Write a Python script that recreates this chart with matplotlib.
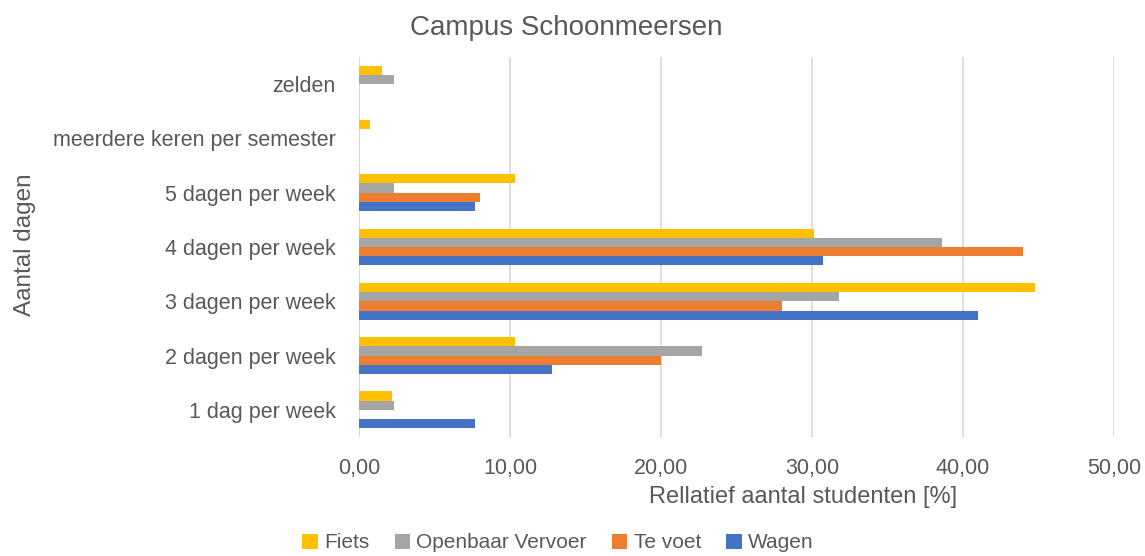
import matplotlib.pyplot as plt
import numpy as np

# categories from bottom to top
categories = ["1 dag per week", "2 dagen per week", "3 dagen per week",
              "4 dagen per week", "5 dagen per week",
              "meerdere keren per semester", "zelden"]

wagen = [7.7, 12.8, 41.0, 30.75, 7.7, 0, 0]
te_voet = [0, 20.0, 28.0, 44.0, 8.0, 0, 0]
openbaar = [2.3, 22.7, 31.8, 38.6, 2.3, 0, 2.3]
fiets = [2.2, 10.3, 44.8, 30.1, 10.3, 0.75, 1.5]

x_ticks = [0, 10, 20, 30, 40, 50]
x_ticklabels = ["0,00", "10,00", "20,00", "30,00", "40,00", "50,00"]

text_col = "#595959"
plt.rcParams['font.family'] = ['Liberation Sans', 'DejaVu Sans']

fig = plt.figure(figsize=(11.45, 5.56), dpi=100)
ax = fig.add_axes([359 / 1145, 1 - 437 / 556, 755 / 1145, 380 / 556])

y = np.arange(len(categories))
h = 0.17
series = [(wagen, "Wagen", "#4472C4", -1.5),
          (te_voet, "Te voet", "#ED7D31", -0.5),
          (openbaar, "Openbaar Vervoer", "#A5A5A5", 0.5),
          (fiets, "Fiets", "#FFC000", 1.5)]
handles = {}
for vals, name, col, off in series:
    handles[name] = ax.barh(y + off * h, vals, height=h, color=col, label=name)

ax.set_xlim(0, 50)
ax.set_ylim(-0.5, len(categories) - 0.5)
ax.set_xticks(x_ticks)
ax.set_xticklabels(x_ticklabels, fontsize=15.5, color=text_col)
ax.set_yticks(y)
ax.set_yticklabels(categories, fontsize=15.5, color=text_col)
ax.tick_params(axis='x', length=0, pad=15)
ax.tick_params(axis='y', length=0, pad=17)
ax.xaxis.grid(True, color="#D9D9D9", linewidth=1.2)
ax.set_axisbelow(True)
for s in ax.spines.values():
    s.set_visible(False)
ax.axvline(0, color="#D9D9D9", linewidth=1.2, zorder=0)

fig.text(566 / 1145, 1 - 28 / 556, "Campus Schoonmeersen", fontsize=20,
         color=text_col, ha="center", va="center")
fig.text(803 / 1145, 1 - 497 / 556, "Rellatief aantal studenten [%]",
         fontsize=17, color=text_col, ha="center", va="center")
fig.text(25 / 1145, 1 - 245 / 556, "Aantal dagen", fontsize=17.5,
         color=text_col, ha="center", va="center", rotation=90)

order = ["Fiets", "Openbaar Vervoer", "Te voet", "Wagen"]
fig.legend([handles[n] for n in order], order, loc="center",
           bbox_to_anchor=(558 / 1145, 1 - 543 / 556), ncol=4, frameon=False,
           fontsize=15, labelcolor=text_col, handlelength=0.75, handleheight=0.75,
           handletextpad=0.3, columnspacing=1.2)

fig.savefig("out.png", dpi=100)
